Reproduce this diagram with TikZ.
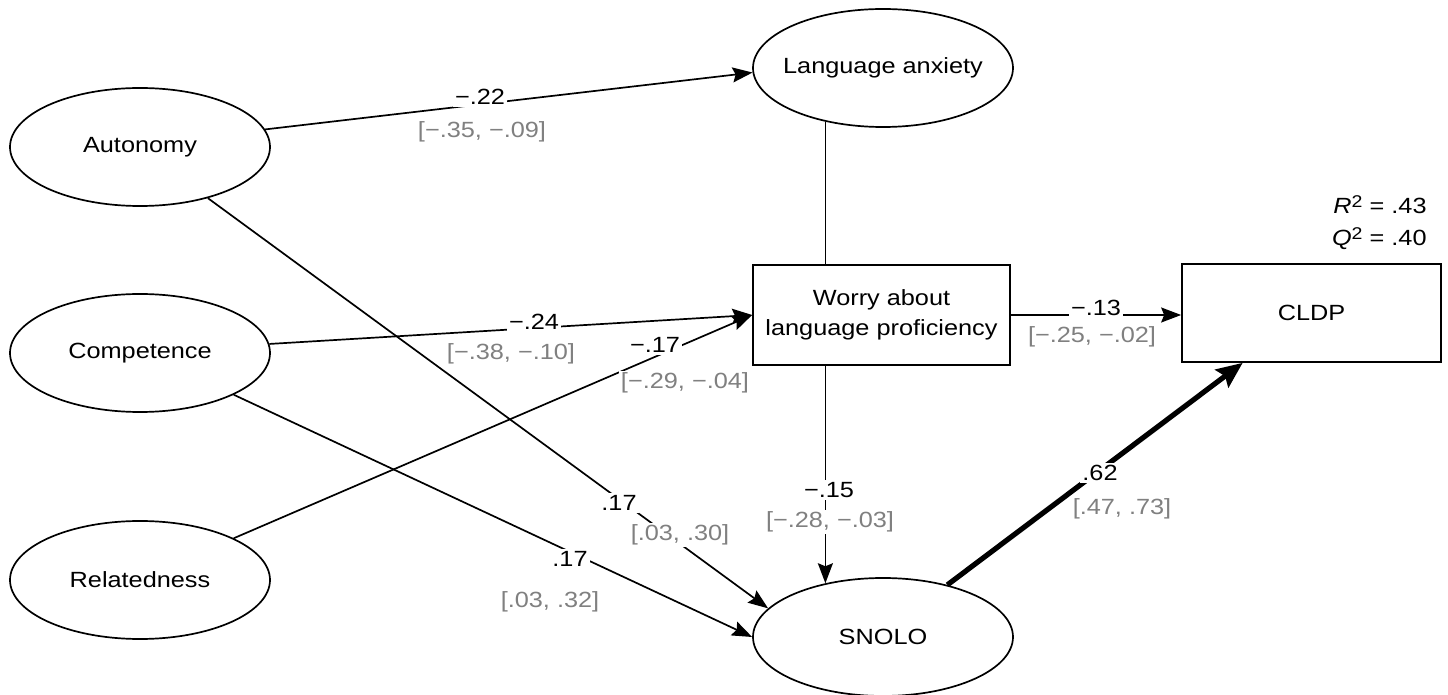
\documentclass[tikz,border=0pt]{standalone}
\usepackage{fontspec}
\setmainfont{Liberation Sans}[FakeStretch=1.15]
\usetikzlibrary{arrows.meta,calc,shapes.geometric}
\definecolor{cigray}{RGB}{128,128,128}
\newcommand{\supnum}[1]{\raisebox{0.5ex}{\fontsize{8.5}{8.5}\selectfont #1}}
\begin{document}
\begin{tikzpicture}[x=0.5pt,y=-0.5pt,
  every node/.style={font=\fontsize{11}{15}\selectfont},
  latent/.style={ellipse,draw,line width=0.85pt,minimum width=130pt,minimum height=59pt,inner ysep=0pt,inner xsep=-5pt},
  obs/.style={rectangle,draw,line width=0.85pt,inner sep=0pt,align=center},
  arr/.style={line width=0.85pt,-{Stealth[length=10pt,width=7.5pt,inset=1.5pt]}},
  plainline/.style={line width=0.85pt},
  strongarr/.style={line width=2.6pt,-{Stealth[length=13pt,width=11pt,inset=2pt]}},
  coef/.style={fill=white,inner sep=1pt},
  ci/.style={fill=white,inner sep=1pt,text=cigray}]
\useasboundingbox (0,0) rectangle (1448,695);

% nodes
\node[latent] (aut) at (140,147) {Autonomy};
\node[latent] (comp) at (140,353) {Competence};
\node[latent] (rel) at (140,580) {Relatedness};
\node[latent] (la) at (883,68) {Language anxiety};
\node[latent] (snolo) at (883,637) {SNOLO};
\node[obs,minimum width=128.5pt,minimum height=50pt] (worry) at (881.5,315) {Worry about\\language proficiency};
\node[obs,minimum width=129.5pt,minimum height=49pt] (cldp) at (1311.5,313) {CLDP};

% connectors
\draw[arr] (aut.8) -- (la.182);
\draw[arr] (aut.-37) -- (snolo.166);
\draw[arr] (comp.4) -- (worry.west);
\draw[arr] (comp.-24) -- (snolo.west);
\draw[arr] (rel.24) -- (worry.west);
\draw[plainline] (la.223) -- (la.223 |- worry.north);
\draw[arr] (snolo.137 |- worry.south) -- (snolo.137);
\draw[arr] (worry.east) -- (worry.east -| cldp.west);
\draw[strongarr] (snolo.39) -- ($(cldp.south west)!0.236!(cldp.south east)$);

% coefficient labels
\node[coef] (c1) at (480,97) {−.22};
\node[ci] (i1) at (482,132) {[−.35, −.09]};
\node[coef] (c2) at (534,322) {−.24};
\node[ci] (i2) at (511,354) {[−.38, −.10]};
\node[coef] (c3) at (655,345) {−.17};
\node[ci] (i3) at (685,383) {[−.29, −.04]};
\node[coef] (c4) at (1096,308) {−.13};
\node[ci] (i4) at (1092,337) {[−.25, −.02]};
\node[coef] (c5) at (1100,473) {.62};
\node[ci] (i5) at (1122,509) {[.47, .73]};
\node[coef] (c6) at (619,503) {.17};
\node[ci] (i6) at (680,535) {[.03, .30]};
\node[coef] (c7) at (570,559) {.17};
\node[ci] (i7) at (550,602) {[.03, .32]};
\node[coef] (c8) at (829,490) {−.15};
\node[ci] (i8) at (830,522) {[−.28, −.03]};

% fit statistics
\node[anchor=east,inner sep=0pt] (r2) at (1427,205) {\textit{R}\supnum{2} = .43};
\node[anchor=east,inner sep=0pt] (q2) at (1427,239) {\textit{Q}\supnum{2} = .40};
\end{tikzpicture}
\end{document}
